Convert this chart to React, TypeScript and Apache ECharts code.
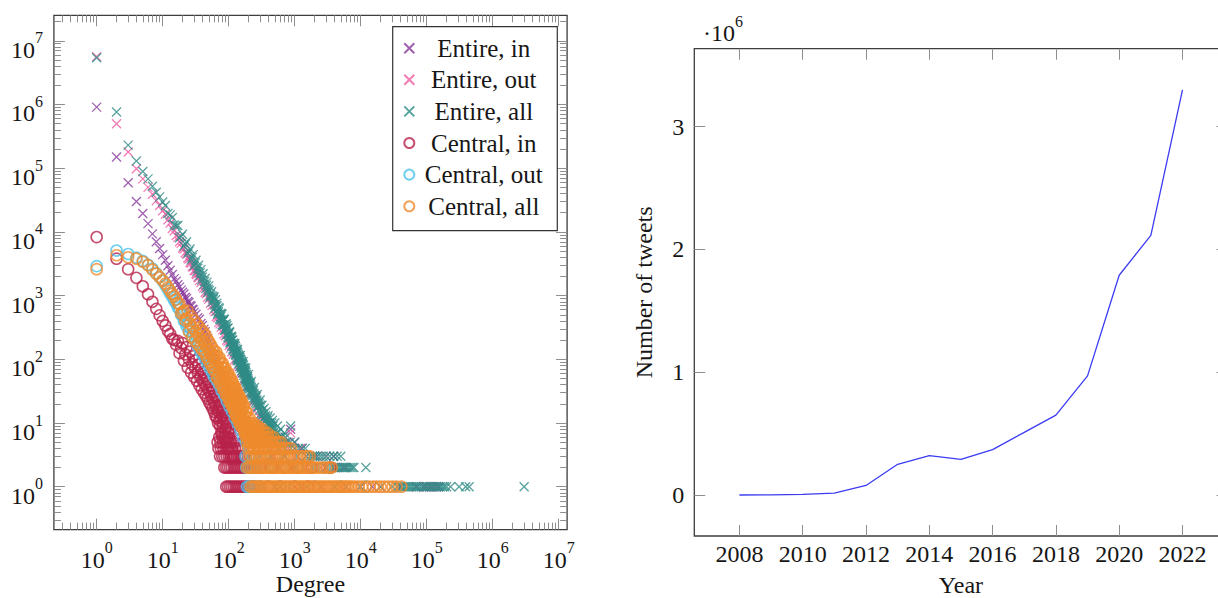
import React, { useEffect, useRef } from 'react';
import * as echarts from 'echarts';

const FONT = '"Liberation Serif", "DejaVu Serif", serif';
const TXT = '#161616';

// ---------------- left chart: degree distributions ----------------
const seriesNames = ['Entire, in', 'Entire, out', 'Entire, all', 'Central, in', 'Central, out', 'Central, all'];
const seriesColors = ['#8a3a9c', '#ef5ca3', '#2f8c87', '#b8234b', '#4cc2ec', '#ef8b2d'];
const seriesMarkers = ['x', 'x', 'x', 'o', 'o', 'o'];

const entireInPts = [[1,910000],[2,150000],[3,59000],[4,30000],[5,19500],[6,13500],[7,9300],[8,7000],[9,5500],[10,4400],[11,3600],[12,2950],[13,2500],[14,2150],[15,1850],[16,1680],[17,1480],[18,1360],[19,1220],[20,1130],[21,1060],[22,940],[23,900],[24,810],[25,780],[26,700],[27,680],[28,610],[29,600],[30,545],[32,510],[34,450],[36,425],[38,365],[40,340],[42,295],[44,270],[46,235],[48,212],[50,185],[53,160],[56,136],[59,116],[62,98],[65,86],[68,72],[71,63],[74,53],[77,48],[81,40],[85,34],[89,29],[93,25],[97,22],[102,19],[107,16],[112,14],[118,12],[124,10],[130,9],[137,8],[144,7],[152,6],[160,5],[170,5],[180,4],[870,8],[1000,5],[1300,4]];
const entireInRows: [number, number[]][] = [[3,[200,300,450,700,1100,2000,3900]],[2,[220,350,600,1000,1800,3000,5500]],[1,[250,500,1000,2500,6000,15000,40000,70000,90000,100000,112000,125000,140000,152000]]];

const entireOutPts = [[1,5600000],[2,500000],[3,180000],[4,98000],[5,68000],[6,50000],[7,39000],[8,31000],[9,26000],[10,21500],[11,19000],[12,15500],[13,13800],[14,11300],[15,10400],[16,8800],[17,8200],[18,7000],[19,6600],[20,5600],[21,5400],[22,4700],[23,4500],[24,3900],[25,3750],[26,3300],[27,3250],[28,2850],[29,2800],[30,2500],[31,2450],[32,2200],[33,2150],[34,1950],[35,1900],[36,1720],[38,1600],[40,1400],[42,1320],[44,1130],[46,1080],[48,940],[50,880],[53,760],[56,700],[59,600],[62,560],[65,470],[68,450],[71,380],[74,360],[77,320],[81,290],[85,250],[89,235],[93,200],[97,190],[102,165],[107,150],[112,130],[118,120],[124,100],[130,96],[137,80],[144,76],[152,62],[160,60],[169,48],[178,47],[188,38],[198,37],[209,30],[220,29],[232,23],[245,22],[258,18],[272,17],[287,13],[303,12],[320,10],[338,9],[357,8],[380,7],[870,7],[1230,4]];
const entireOutRows: [number, number[]][] = [[6,[400,480,560]],[5,[420,520,650,800]],[4,[450,600,800,1000,1230]],[3,[500,700,1000,1500,2200,3000]],[2,[550,900,1500,2500,4000,6000]],[1,[600,1200,2500,5000,10000,20000,40000,70000,100000,120000,140000]]];

const entireAllPts = [[1,5400000],[2,760000],[3,230000],[4,130000],[5,89000],[6,68000],[7,52000],[8,42000],[9,35500],[10,29500],[11,26000],[12,19500],[13,18500],[14,16800],[15,12800],[16,12500],[17,12600],[18,8100],[19,8500],[20,9200],[21,6000],[22,6450],[23,7000],[24,4560],[25,4950],[26,5400],[27,3620],[28,3980],[29,4400],[30,2950],[31,3240],[32,3580],[33,2400],[34,2680],[35,3000],[36,2040],[37,2280],[38,2560],[39,1750],[40,1950],[41,2200],[42,1500],[43,1670],[44,1860],[45,1290],[46,1450],[47,1630],[48,1120],[49,1260],[50,1420],[52,940],[53,1050],[55,1150],[56,790],[58,870],[60,960],[62,640],[64,690],[66,760],[68,510],[70,560],[72,620],[74,420],[76,465],[78,520],[80,350],[82,395],[85,430],[88,285],[91,310],[94,340],[97,225],[100,246],[103,270],[106,180],[109,200],[112,220],[116,146],[120,160],[124,176],[128,118],[132,129],[136,143],[140,96],[145,105],[150,115],[155,77],[160,84],[165,92],[170,61],[176,67],[182,73],[188,48],[194,53],[200,58],[207,38],[214,42],[221,45],[229,30],[237,33],[245,36],[253,24],[262,26],[271,28],[280,18],[290,20],[300,23],[310,14],[320,19],[332,12],[344,17],[356,11],[368,15],[381,10],[395,13],[410,9],[425,12],[440,8],[460,11],[480,7],[500,10],[525,7],[550,9],[580,6],[610,8],[650,6],[700,7],[750,5],[870,9],
  [51,1200],[54,1000],[57,980],[59,920],[61,720],[63,860],[65,570],[67,690],[69,535],[71,650],[73,435],[75,525],[77,415],[79,510],[81,345],[83,420],[84,340],[86,420],[87,290],[89,355],[90,290],[92,360],[93,245],[95,305],[96,250],[98,310],[99,215],[101,265],[102,220],[104,265],[105,185],[107,225],[108,190],[110,230],[111,160],[113,200],[114,165],[115,200],[117,140],[118,180],[119,145],[121,175],[122,130],[123,165],[125,135],[126,160],[127,120],[129,150],[130,115],[131,140],[133,105],[134,135],[135,100],[137,128],[138,95],[139,120],[141,100],[142,115],[143,85],[144,112],[146,90],[147,108],[148,78],[149,100],[151,82],[152,100],[153,72],[154,95],[156,76],[157,92],[158,66],[159,88],[161,72],[162,86],[163,62],[164,82],[166,68],[167,80],[168,56],[169,74],[171,62],[172,74],[173,52],[174,70],[175,58],[177,64],[178,50],[179,66],[180,56],[181,47],[183,62],[184,50],[185,44],[186,58],[187,48],[189,54],[190,42],[191,52],[192,45],[193,38],[195,50],[196,43],[197,36],[198,47],[199,40],[202,44],[204,35],[206,42],[209,34],[211,40],[213,31],[216,38],[218,30],[220,36],[224,28],[226,34],[232,27],[234,31],[240,25],[242,29],[248,23],[250,27],[256,21],[258,25],[265,20],[268,23],[275,18],[284,21],[295,16],[305,19],[315,13],[326,16],[338,14],[350,12],[362,13],[375,11],[388,12],[402,10],[418,10],[433,9],[450,10],[470,9]];
const entireAllRows: [number, number[]][] = [[8,[330,390,450]],[7,[340,400,470,560]],[6,[360,430,520,620,720]],[5,[380,480,600,720,850,1000]],[4,[400,560,720,880,1000,1150,1300,1450]],[3,[420,700,1100,1500,1700,1850,2000,2200,2450,2700,3000,3400,3900,4400,5000]],[2,[500,1000,2000,3000,3600,3900,4200,4500,4850,5200,5600,6000,6450,6950,7450,7900,12000]],[1,[600,1500,4000,10000,20000,30000,36000,40000,43000,46500,50000,54000,58000,62500,67000,72000,77500,83500,90000,97000,104000,112000,120000,129000,139000,150000,161000,173000,186000,200000,230000,310000,390000,440000,3000000]]];

const centralInPts = [[1,8300],[2,3800],[3,2600],[4,1900],[5,1400],[6,1050],[7,800],[8,620],[9,490],[10,400],[11,340],[12,280],[13,250],[14,210],[15,200],[16,170],[17,195],[18,125],[19,150],[20,180],[21,95],[22,120],[23,155],[24,74],[25,100],[26,132],[27,62],[28,84],[29,112],[30,53],[31,73],[32,97],[33,46],[34,62],[35,83],[36,39],[37,53],[38,71],[39,34],[40,47],[41,63],[42,30],[43,41],[44,55],[45,27],[46,37],[47,49],[48,24],[49,33],[50,45],[51,21],[52,30],[53,39],[54,19],[55,26],[56,35],[57,17],[58,23],[59,31],[60,15],[61,20],[62,27],[63,13],[64,18],[65,25],[66,12],[67,16],[68,22],[69,10],[70,15],[72,19],[74,9],[76,12],[78,16],[80,7],[82,10],[84,13],[87,6],[90,8],[93,10],[97,4],[100,6],[104,7],[108,3],[113,4],[118,5],[124,3],
  [71,17],[73,11],[75,19],[77,7],[79,13],[81,9],[83,15],[85,6],[86,11],[88,7],[89,12],[91,5],[92,9],[94,6],[95,11],[96,4],[98,7],[99,5],[101,8],[102,4],[105,5],[110,4],[115,3],[120,3]];
const centralInRows: [number, number[]][] = [[6,[72,80,88,96]],[5,[68,75,82,90,99,109]],[4,[70,76,83,90,97,105,114,124,135]],[3,[74,80,86,93,100,108,116,125,135,145,156,168,180]],[2,[86,92,98,105,112,120,128,137,146,156,167,178,190,203,217,232,248,300,450,700,1100,1800,3450]],[1,[92,98,105,112,120,128,137,146,156,167,178,190,203,217,232,248,300,400,600,1000,1600]]];

const centralOutPts = [[1,2900],[2,5100],[3,4500],[4,3950],[5,3500],[6,3050],[7,2650],[8,2250],[9,1950],[10,1700],[11,1450],[12,1250],[13,1080],[14,950],[15,840],[16,760],[17,650],[18,610],[19,500],[20,500],[21,400],[22,420],[23,330],[24,350],[25,280],[26,310],[28,230],[29,260],[31,195],[32,230],[34,160],[35,190],[37,135],[38,165],[40,118],[42,138],[44,100],[46,118],[48,84],[50,100],[52,72],[54,86],[56,62],[58,76],[60,53],[63,64],[66,46],[69,56],[72,39],[75,47],[78,32],[82,41],[86,27],[90,34],[94,22],[98,29],[103,18],[108,24],[113,15],[118,19],[124,12],[130,15],[136,10],[143,12],[150,8],[158,10],[166,6],[175,8],[184,5],[194,6],[204,4],[215,5],[226,3],[240,4],[255,3]];
const centralOutRows: [number, number[]][] = [[3,[180,200,230,300,500,900]],[2,[185,200,216,234,260,320,500,900,1600,2800]],[1,[190,205,222,240,260,300,400,600,1000,2000,5000,12000]]];

const centralAllPts = [[1,2600],[2,4300],[3,4000],[4,3800],[5,3400],[6,3000],[7,2550],[8,2200],[9,1950],[10,1740],[11,1540],[12,1350],[13,1190],[14,1070],[15,980],[16,870],[17,760],[18,740],[19,530],[20,550],[21,580],[22,410],[23,440],[24,575],[25,270],[26,360],[27,476],[28,224],[29,305],[30,409],[31,196],[32,268],[33,361],[34,174],[35,238],[36,320],[37,154],[38,212],[39,287],[40,139],[41,193],[42,263],[43,129],[44,175],[45,235],[46,111],[47,153],[48,205],[49,98],[50,138],[51,186],[52,89],[53,123],[54,166],[55,80],[56,111],[57,150],[58,72],[59,100],[60,137],[62,65],[64,87],[66,115],[68,54],[70,74],[72,98],[74,47],[76,64],[78,85],[80,41],[82,55],[84,74],[86,35],[88,48],[90,64],[92,31],[94,42],[96,57],[98,27],[100,38],[103,50],[106,23],[109,32],[112,42],[115,20],[118,27],[121,35],[124,17],[127,23],[130,30],[133,14],[136,20],[139,26],[142,12],[145,17],[148,23],[151,11],[154,15],[157,20],[160,10],[164,13],[168,18],[172,8],[176,11],[180,15],[185,7],[190,9],[195,12],[200,6],[206,8],[212,10],[218,5],[225,7],[232,9],[240,4],[248,5],[256,7],[264,3],[272,4],[280,6],[290,4],[300,5],[310,3],
  [61,115],[63,77],[65,131],[67,50],[69,91],[71,61],[73,106],[75,41],[77,75],[79,50],[81,88],[83,34],[85,62],[87,42],[89,73],[91,28],[93,52],[95,35],[97,62],[99,24],[101,45],[102,31],[104,55],[105,21],[107,39],[108,27],[110,48],[111,19],[113,35],[114,25],[116,43],[117,17],[119,32],[120,22],[122,38],[123,15],[125,28],[126,20],[128,35],[129,13],[131,25],[132,18],[134,31],[135,12],[137,23],[138,16],[140,28],[141,11],[143,21],[144,15],[146,26],[147,10],[149,19],[150,13],[152,24],[153,9],[155,18],[156,12],[158,22],[159,9],[162,16],[166,11],[170,19],[174,7],[178,13],[182,9],[187,15],[192,6],[198,10],[203,7],[209,12],[215,5],[222,8],[228,6],[236,10],[244,4],[252,6],[260,5],[268,7],[276,4]];
const centralAllRows: [number, number[]][] = [
  [9,[172,190,208,228,250,273]],
  [8,[176,193,211,230,251,274,298,325]],
  [7,[180,197,215,235,256,279,304,331,360,390]],
  [6,[185,202,220,240,262,285,310,338,368,400,440,480]],
  [5,[190,207,225,245,266,289,314,341,371,403,438,476,520,570,620]],
  [4,[195,212,230,250,271,294,319,346,375,407,442,480,521,566,615,670,730,800,880]],
  [3,[205,222,240,260,282,305,330,357,386,418,452,489,529,572,619,670,725,784,848,920,1000,1100,1230,1380,1550,1680]],
  [2,[190,204,219,235,252,270,290,311,333,357,383,411,440,472,506,543,582,624,669,717,769,825,884,948,1016,1090,1170,1255,1345,1440,1545,1660,1780,1950,2150,2400,2700,3000,3350,3650]],
  [1,[215,230,246,262,281,300,322,344,368,395,422,452,485,518,555,595,637,682,730,782,838,897,960,1030,1100,1180,1265,1355,1450,1550,1660,1780,1905,2040,2185,2340,2505,2685,2875,3080,3300,3530,3780,4050,4340,4650,4980,5330,5710,6120,6550,7020,7600,8400,9300,10500,12000,13500,15500,17500,20000,23000,26500,30500,35000,41500]],
];

const seriesPts = [entireInPts, entireOutPts, entireAllPts, centralInPts, centralOutPts, centralAllPts];
const seriesRows = [entireInRows, entireOutRows, entireAllRows, centralInRows, centralOutRows, centralAllRows];

// axis ranges (log10 exponents) and tick labels
const xExpRange = [-0.648, 7.128];
const yExpRange = [-0.673, 7.40];
const xDecades = [0, 1, 2, 3, 4, 5, 6, 7];
const yDecades = [0, 1, 2, 3, 4, 5, 6, 7];
const minorMultipliers = [2, 3, 4, 5, 6, 7, 8, 9];

// ---------------- right chart: tweets per year ----------------
const years = [2008, 2009, 2010, 2011, 2012, 2013, 2014, 2015, 2016, 2017, 2018, 2019, 2020, 2021, 2022];
const tweets = [0, 1000, 5000, 15000, 78000, 250000, 320000, 290000, 370000, 510000, 650000, 970000, 1790000, 2115000, 3300000];
const yearTicks = [2008, 2010, 2012, 2014, 2016, 2018, 2020, 2022];
const tweetTicks = [0, 1000000, 2000000, 3000000];
const yearRange = [2006.575, 2023.425];
const tweetRange = [-334000, 3635000];

const CROSS = 'path://M0,0L10,10M0,10L10,0';
const TICK = { color: '#8e8e8e', width: 1 };
const FS = 24;
const LEG_FS = 25;

function minorExps(range: number[]) {
  const out: number[] = [];
  for (let n = -1; n <= 8; n++) {
    for (const k of minorMultipliers) {
      const v = n + Math.log10(k);
      if (v > range[0] && v < range[1]) out.push(v);
    }
  }
  return out;
}

const powRich = {
  b: { fontFamily: FONT, fontSize: FS, color: TXT, lineHeight: 32, verticalAlign: 'bottom' },
  s: { fontFamily: FONT, fontSize: 16, color: TXT, lineHeight: 16, verticalAlign: 'top' },
};
const powFmt = (v: number) => `{b|10}{s|${Math.round(v)}}`;
const NO_LINE = { show: false, onZero: false };

function tickAxis(pos: string, range: number[], values: number[], len: number, extra: any = {}) {
  return {
    type: 'value', gridIndex: 0, position: pos, min: range[0], max: range[1],
    axisLine: NO_LINE, splitLine: { show: false },
    axisTick: { show: true, inside: true, length: len, customValues: values, lineStyle: TICK },
    axisLabel: { show: false },
    silent: true,
    ...extra,
  };
}

function buildOption() {
  const series: any[] = seriesNames.map((name, i) => {
    const data = seriesPts[i].concat(seriesRows[i].flatMap(([c, ds]) => ds.map((d) => [d, c])));
    const isX = seriesMarkers[i] === 'x';
    return {
      type: 'scatter', name, data, xAxisIndex: 0, yAxisIndex: 0,
      symbol: isX ? CROSS : 'circle',
      symbolSize: isX ? 9 : 11,
      itemStyle: { color: 'rgba(0,0,0,0)', borderColor: seriesColors[i], borderWidth: isX ? 1.3 : 1.6 },
      emphasis: { disabled: true },
      silent: true,
      large: false,
      progressive: 0,
    };
  });
  series.push({
    type: 'line', name: 'tweets', xAxisIndex: 5, yAxisIndex: 5,
    data: years.map((y, i) => [y, tweets[i]]),
    symbol: 'none', showSymbol: false,
    lineStyle: { color: '#3b3bf3', width: 1.3 },
    silent: true,
  });

  const xMin = minorExps(xExpRange);
  const yMin = minorExps(yExpRange);
  const nameStyle = { fontFamily: FONT, fontSize: FS, color: TXT, lineHeight: FS };

  return {
    animation: false,
    backgroundColor: '#ffffff',
    grid: [
      { left: 53.9, right: 650.9, top: 15.3, bottom: 68.4, show: true, borderColor: '#3d3d3d', borderWidth: 1.3, backgroundColor: 'transparent', containLabel: false, outerBoundsMode: 'none' },
      { left: 694.3, right: -9.6, top: 48.7, bottom: 62, show: true, borderColor: '#3d3d3d', borderWidth: 1.3, backgroundColor: 'transparent', containLabel: false, outerBoundsMode: 'none' },
    ],
    legend: {
      data: seriesNames,
      orient: 'vertical',
      left: 392.7, top: 26.7,
      itemWidth: 10, itemHeight: 10, itemGap: 6.6,
      padding: [9, 9, 12, 10.6],
      borderColor: '#333', borderWidth: 1.2, backgroundColor: '#fff',
      selectedMode: false,
      formatter: (n: string) => `{t|${n}}`,
      textStyle: {
        fontFamily: FONT, fontSize: LEG_FS, color: TXT, lineHeight: 23,
        rich: { t: { width: 129, align: 'center', fontFamily: FONT, fontSize: LEG_FS, lineHeight: 23, color: TXT } },
      },
    },
    xAxis: [
      { type: 'log', logBase: 10, gridIndex: 0, min: Math.pow(10, xExpRange[0]), max: Math.pow(10, xExpRange[1]), show: false, axisLine: NO_LINE, splitLine: { show: false } },
      tickAxis('bottom', xExpRange, xDecades, 11, {
        axisLabel: { show: true, customValues: xDecades, formatter: powFmt, rich: powRich, margin: 10 },
        name: 'Degree', nameLocation: 'middle', nameGap: 42,
        nameTextStyle: nameStyle,
        nameMoveOverlap: false,
      }),
      tickAxis('bottom', xExpRange, xMin, 7),
      tickAxis('top', xExpRange, xDecades, 11),
      tickAxis('top', xExpRange, xMin, 7),
      {
        type: 'value', gridIndex: 1, position: 'bottom', min: yearRange[0], max: yearRange[1],
        axisLine: NO_LINE, splitLine: { show: false },
        axisTick: { inside: true, length: 11, customValues: yearTicks, lineStyle: TICK },
        axisLabel: { customValues: yearTicks, formatter: (v: number) => String(v), fontFamily: FONT, fontSize: FS, color: TXT, margin: 6, lineHeight: FS },
        name: 'Year', nameLocation: 'middle', nameGap: 37,
        nameTextStyle: nameStyle,
        nameMoveOverlap: false,
      },
      {
        type: 'value', gridIndex: 1, position: 'top', min: yearRange[0], max: yearRange[1],
        axisLine: NO_LINE, splitLine: { show: false },
        axisTick: { inside: true, length: 11, customValues: yearTicks, lineStyle: TICK },
        axisLabel: { show: false },
      },
    ],
    yAxis: [
      { type: 'log', logBase: 10, gridIndex: 0, min: Math.pow(10, yExpRange[0]), max: Math.pow(10, yExpRange[1]), show: false, axisLine: NO_LINE, splitLine: { show: false } },
      tickAxis('left', yExpRange, yDecades, 11, {
        axisLabel: { show: true, customValues: yDecades, formatter: powFmt, rich: powRich, margin: 11, padding: [10, 0, 0, 0] },
      }),
      tickAxis('left', yExpRange, yMin, 7),
      tickAxis('right', yExpRange, yDecades, 11),
      tickAxis('right', yExpRange, yMin, 7),
      {
        type: 'value', gridIndex: 1, position: 'left', min: tweetRange[0], max: tweetRange[1],
        axisLine: NO_LINE, splitLine: { show: false },
        axisTick: { inside: true, length: 11, customValues: tweetTicks, lineStyle: TICK },
        axisLabel: { customValues: tweetTicks, formatter: (v: number) => String(Math.round(v / 1e6)), fontFamily: FONT, fontSize: FS, color: TXT, margin: 10 },
        name: 'Number of tweets', nameLocation: 'middle', nameGap: 38,
        nameTextStyle: nameStyle,
        nameMoveOverlap: false,
      },
      {
        type: 'value', gridIndex: 1, position: 'right', min: tweetRange[0], max: tweetRange[1],
        axisLine: NO_LINE, splitLine: { show: false },
        axisTick: { inside: true, length: 11, customValues: tweetTicks, lineStyle: TICK },
        axisLabel: { show: false },
      },
    ],
    graphic: [
      {
        type: 'text', left: 703, top: 13, silent: true,
        style: {
          text: '{a|·10}{b|6}',
          rich: {
            a: { fontFamily: FONT, fontSize: FS, fill: TXT, lineHeight: 32, verticalAlign: 'bottom' },
            b: { fontFamily: FONT, fontSize: 16, fill: TXT, lineHeight: 16, verticalAlign: 'top' },
          },
        },
      },
    ],
    series,
  };
}

export default function App() {
  const ref = useRef<HTMLDivElement>(null);
  useEffect(() => {
    const chart = echarts.init(ref.current as HTMLDivElement, null, { renderer: 'svg' });
    chart.setOption(buildOption() as any);
    return () => chart.dispose();
  }, []);
  return (
    <div
      ref={ref}
      style={{ position: 'absolute', left: 0, top: 0, width: 1218, height: 598, background: '#fff' }}
    />
  );
}
